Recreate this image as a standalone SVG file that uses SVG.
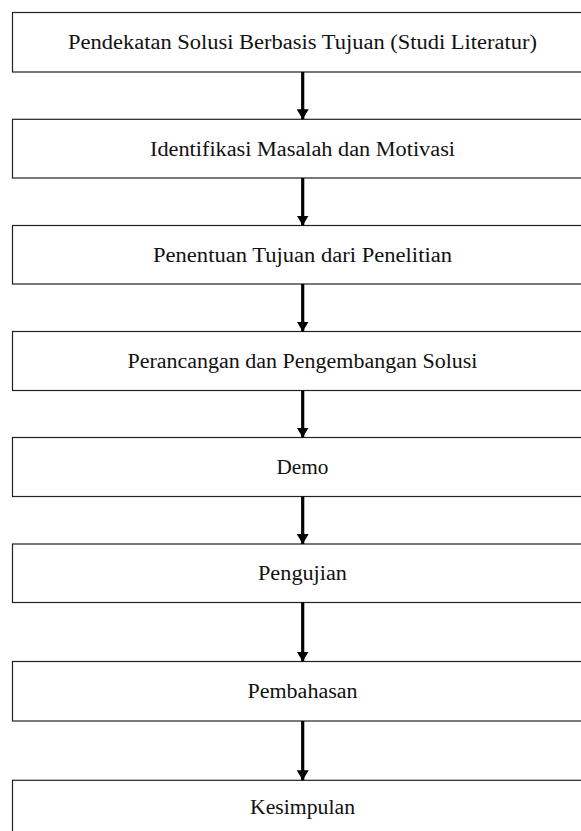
<svg xmlns="http://www.w3.org/2000/svg" width="581" height="831" viewBox="0 0 581 831">
<style>
.box{fill:#fff;stroke:#222;stroke-width:1.2}
.lbl{font-family:"Liberation Serif","Times New Roman",serif;font-size:20px;fill:#111;text-anchor:middle}
.conn{stroke:#000;stroke-width:3.2;fill:none}
</style>
<defs>
<marker id="ah" markerUnits="userSpaceOnUse" markerWidth="10" markerHeight="12" refX="10" refY="6" orient="auto">
<path d="M0,0 L10,6 L0,12 Z" fill="#000"/>
</marker>
</defs>
<rect width="581" height="831" fill="#fff"/>
<g id="n1"><rect class="box" x="12.5" y="12.5" width="580" height="59.5"/><text class="lbl" x="302.5" y="49" textLength="469" lengthAdjust="spacingAndGlyphs">Pendekatan Solusi Berbasis Tujuan (Studi Literatur)</text></g>
<g id="n2"><rect class="box" x="12.5" y="119.3" width="580" height="58.7"/><text class="lbl" x="302.5" y="155.5" textLength="305" lengthAdjust="spacingAndGlyphs">Identifikasi Masalah dan Motivasi</text></g>
<g id="n3"><rect class="box" x="12.5" y="225.5" width="580" height="58.5"/><text class="lbl" x="302.5" y="261.5" textLength="299" lengthAdjust="spacingAndGlyphs">Penentuan Tujuan dari Penelitian</text></g>
<g id="n4"><rect class="box" x="12.5" y="331.5" width="580" height="59"/><text class="lbl" x="302.5" y="367.5" textLength="350" lengthAdjust="spacingAndGlyphs">Perancangan dan Pengembangan Solusi</text></g>
<g id="n5"><rect class="box" x="12.5" y="437.5" width="580" height="59"/><text class="lbl" x="302.5" y="473.5" textLength="52" lengthAdjust="spacingAndGlyphs">Demo</text></g>
<g id="n6"><rect class="box" x="12.5" y="544" width="580" height="58.5"/><text class="lbl" x="302.5" y="580" textLength="89" lengthAdjust="spacingAndGlyphs">Pengujian</text></g>
<g id="n7"><rect class="box" x="12.5" y="661.5" width="580" height="59.5"/><text class="lbl" x="302.5" y="698" textLength="110" lengthAdjust="spacingAndGlyphs">Pembahasan</text></g>
<g id="n8"><rect class="box" x="12.5" y="780.3" width="580" height="59"/><text class="lbl" x="302.5" y="813.5" textLength="105" lengthAdjust="spacingAndGlyphs">Kesimpulan</text></g>
<g id="connectors">
<line class="conn" x1="302.7" y1="72" x2="302.7" y2="119.3" marker-end="url(#ah)"/>
<line class="conn" x1="302.7" y1="178" x2="302.7" y2="225.5" marker-end="url(#ah)"/>
<line class="conn" x1="302.7" y1="284" x2="302.7" y2="331.5" marker-end="url(#ah)"/>
<line class="conn" x1="302.7" y1="390.5" x2="302.7" y2="437.5" marker-end="url(#ah)"/>
<line class="conn" x1="302.7" y1="496.5" x2="302.7" y2="544" marker-end="url(#ah)"/>
<line class="conn" x1="302.7" y1="602.5" x2="302.7" y2="661.5" marker-end="url(#ah)"/>
<line class="conn" x1="302.7" y1="721" x2="302.7" y2="780.3" marker-end="url(#ah)"/>
</g>
</svg>
